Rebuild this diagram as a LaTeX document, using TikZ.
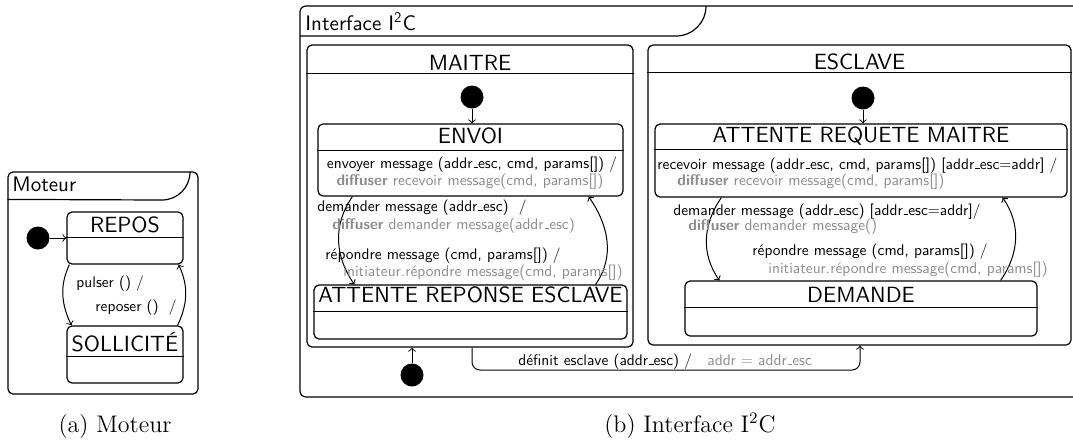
\documentclass[tikz,border=0pt]{standalone}
\usepackage{fontspec}
\setsansfont{lmsans10-regular.otf}[BoldFont=lmsans10-bold.otf]
\usepackage{tikz}
\usetikzlibrary{fit,calc,positioning}
\definecolor{gristexte}{gray}{0.55}
\newcommand{\tiretbas}{\leavevmode\kern.06em\vbox{\hrule width.3em}}

\begin{document}
\begin{tikzpicture}[x=0.5pt,y=-0.5pt,
    etat/.style={draw,line width=0.6pt,rounded corners=2.5pt,inner sep=0pt},
    titre/.style={font=\sffamily\fontsize{11}{13}\selectfont,inner sep=0pt,anchor=base},
    entete/.style={font=\sffamily\fontsize{10.5}{12}\selectfont,inner sep=0pt,anchor=base west},
    txt/.style={font=\sffamily\fontsize{7.7}{9}\selectfont,inner sep=0pt,anchor=base west},
    gris/.style={txt,text=gristexte},
    init/.style={circle,fill=black,minimum size=11.5pt,inner sep=0pt},
    trans/.style={->,line width=0.5pt},
    legende/.style={font=\fontsize{12}{14}\selectfont,inner sep=0pt,anchor=base}]
    \useasboundingbox (0,0) rectangle (1073,441);

    % Moteur frame
    \node[etat,fit={(8,172) (198,394)}] (moteur) {};
    \draw[line width=0.6pt] ($(moteur.north west)+(0,28)$) -- (162,200) to[out=0,in=-90] (190,172);
    \node[entete] (t_moteur) at (12,191) {Moteur};

    % REPOS / SOLLICITE
    \node[etat,fit={(67,212) (183,264)}] (repos) {};
    \node[titre] (t_repos) at ($(repos.north)+(0,21)$) {REPOS};
    \draw[line width=0.6pt] ($(repos.north west)+(0,26)$) -- ($(repos.north east)+(0,26)$);
    \node[etat,fit={(67,326) (183,383)}] (sollicite) {};
    \node[titre] (t_sollicite) at ($(sollicite.north)+(0,26)$) {SOLLICITÉ};
    \draw[line width=0.6pt] ($(sollicite.north west)+(0,31)$) -- ($(sollicite.north east)+(0,31)$);

    \node[init] (i_moteur) at (38,238) {};
    \draw[trans] (i_moteur) -- (i_moteur -| repos.west);
    \draw[trans] ($(repos.south west)+(3,0)$) to[out=245,in=115] ($(sollicite.north west)+(5,0)$);
    \draw[trans] ($(sollicite.north east)+(-6,0)$) to[out=65,in=295] ($(repos.south east)+(-5,0)$);
    \node[txt] (l_pulser) at (76,287) {pulser () /};
    \node[txt] (l_reposer) at (95,311) {reposer ()~~/};

    % Interface I2C frame
    \draw[line width=0.6pt,rounded corners=3pt] (1073,6) -- (300,6) -- (300,397) -- (1073,397);
    \draw[line width=0.6pt] (300,36) -- (676,36) to[out=0,in=-90] (706,6);
    \node[entete] (t_interface) at (305,30) {Interface I\textsuperscript{2}C};

    % MAITRE
    \node[etat,fit={(307,45) (633,347)}] (maitre) {};
    \node[titre] (t_maitre) at ($(maitre.north)+(0,26)$) {MAITRE};
    \draw[line width=0.6pt] ($(maitre.north west)+(0,29)$) -- ($(maitre.north east)+(0,29)$);

    \node[etat,fit={(318,124) (623,196)}] (envoi) {};
    \node[titre] (t_envoi) at ($(envoi.north)+(0,20)$) {ENVOI};
    \draw[line width=0.6pt] ($(envoi.north west)+(0,27)$) -- ($(envoi.north east)+(0,27)$);
    \node[txt,anchor=base] (b_envoi1) at (472,168) {envoyer message (addr\tiretbas esc, cmd, params[]) /};
    \node[gris,anchor=base] (b_envoi2) at (470,185) {\textbf{diffuser} recevoir message(cmd, params[])};

    \node[etat,fit={(314,285) (627,339)}] (attente) {};
    \node[titre] (t_attente) at ($(attente.north)+(0,18)$) {ATTENTE REPONSE ESCLAVE};
    \draw[line width=0.6pt] ($(attente.north west)+(0,27)$) -- ($(attente.north east)+(0,27)$);

    \node[init] (i_maitre) at (472,97) {};
    \draw[trans] (i_maitre) -- (i_maitre |- envoi.north);
    \draw[trans] ($(envoi.south west)+(35,0)$) to[out=235,in=125] ($(attente.north west)+(41,0)$);
    \draw[trans] ($(attente.north east)+(-32,0)$) to[out=55,in=305] ($(envoi.south east)+(-35,0)$);
    \node[txt] (l_demander_m) at (317,211) {demander message (addr\tiretbas esc)~~/};
    \node[gris] (l_diffuser_m) at (332,229) {\textbf{diffuser} demander message(addr\tiretbas esc)};
    \node[txt] (l_repondre_m) at (325,259) {répondre message (cmd, params[]) /};
    \node[gris] (l_initiateur_m) at (343,276) {initiateur.répondre message(cmd, params[])};

    % ESCLAVE
    \node[etat,fit={(648,45) (1071,345)}] (esclave) {};
    \node[titre] (t_esclave) at ($(esclave.north)+(0,25)$) {ESCLAVE};
    \draw[line width=0.6pt] ($(esclave.north west)+(0,28)$) -- ($(esclave.north east)+(0,28)$);

    \node[etat,fit={(655,124) (1067,197)}] (arm) {};
    \node[titre] (t_arm) at ($(arm.north)+(0,19)$) {ATTENTE REQUETE MAITRE};
    \draw[line width=0.6pt] ($(arm.north west)+(0,26)$) -- ($(arm.north east)+(0,26)$);
    \node[txt] (b_arm1) at (657,169) {recevoir message (addr\tiretbas esc, cmd, params[]) [addr\tiretbas esc=addr] /};
    \node[gris] (b_arm2) at (677,185) {\textbf{diffuser} recevoir message(cmd, params[])};

    \node[etat,fit={(685,281) (1037,336)}] (demande) {};
    \node[titre] (t_demande) at ($(demande.north)+(0,22)$) {DEMANDE};
    \draw[line width=0.6pt] ($(demande.north west)+(0,27)$) -- ($(demande.north east)+(0,27)$);

    \node[init] (i_esclave) at (863,98) {};
    \draw[trans] (i_esclave) -- (i_esclave |- arm.north);
    \draw[trans] ($(arm.south west)+(67,0)$) to[out=235,in=125] ($(demande.north west)+(35,0)$);
    \draw[trans] ($(demande.north east)+(-37,0)$) to[out=55,in=305] ($(arm.south east)+(-65,0)$);
    \node[txt] (l_demander_e) at (673,215) {demander message (addr\tiretbas esc) [addr\tiretbas esc=addr]/};
    \node[gris] (l_diffuser_e) at (688,230) {\textbf{diffuser} demander message()};
    \node[txt] (l_repondre_e) at (752,255) {répondre message (cmd, params[]) /};
    \node[gris] (l_initiateur_e) at (768,273) {initiateur.répondre message(cmd, params[])};

    % definit esclave
    \node[init] (i_bas) at (412,375) {};
    \draw[trans] (i_bas) -- (i_bas |- maitre.south);
    \draw[trans,rounded corners=4pt] (maitre.south -| 472,0) -- (472,370) -- (860,370) -- (esclave.south -| 860,0);
    \node[txt] (l_definit) at (518,365) {définit esclave (addr\tiretbas esc) /};
    \node[gris] (l_addr) at (707,365) {addr = addr\tiretbas esc};

    % captions
    \node[legende] (c_moteur) at (115,432) {(a) Moteur};
    \node[legende] (c_interface) at (690,432) {(b) Interface I\textsuperscript{2}C};
\end{tikzpicture}
\end{document}
